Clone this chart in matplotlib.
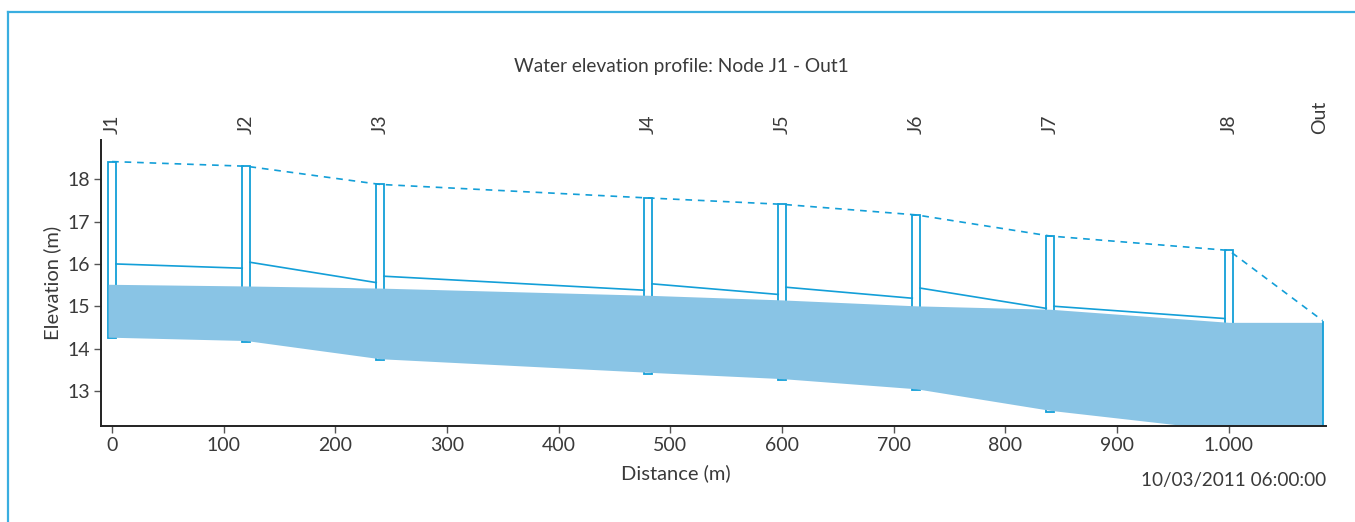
import numpy as np
import matplotlib
matplotlib.use("Agg")
import matplotlib.pyplot as plt
from matplotlib.lines import Line2D
from matplotlib.patches import Rectangle
from matplotlib.ticker import FuncFormatter

# node data (distance in m, elevations in m)
nodes = ["J1", "J2", "J3", "J4", "J5", "J6", "J7", "J8", "Out"]
distance = [0, 120, 240, 480, 600, 720, 840, 1000, 1084]
ground = [18.42, 18.31, 17.88, 17.56, 17.41, 17.16, 16.66, 16.32, 14.66]
invert = [14.24, 14.16, 13.73, 13.41, 13.26, 13.02, 12.51, 12.03, 11.95]
water = [15.52, 15.48, 15.43, 15.26, 15.15, 15.01, 14.93, 14.62, 14.62]

# pipe crowns per conduit (start, end)
crown_start = [16.00, 16.04, 15.71, 15.53, 15.45, 15.43, 15.00]
crown_end = [15.90, 15.56, 15.38, 15.28, 15.19, 14.95, 14.71]

line_col = "#139fd8"
fill_col = "#89c4e5"
text_col = "#3a3a3a"
mh_w = 7.0

plt.rcParams['font.family'] = ['Lato', 'DejaVu Sans']

fig = plt.figure(figsize=(13.55, 5.22), dpi=100)
ax = fig.add_axes([0.0749, 0.1839, 0.9037, 0.5479])

x = np.array(distance, dtype=float)
xf = x.copy()
xf[0] -= mh_w / 2
# water fill covers the lower part of the manholes
ax.fill_between(xf, np.array(invert) + 0.03, water, color=fill_col, lw=0, zorder=5)

# ground line (dashed)
ax.plot(x, ground, color=line_col, lw=1.2, ls=(0, (4, 3.5)), zorder=3)

# manholes
for i in range(len(nodes) - 1):
    ax.add_patch(Rectangle((x[i] - mh_w / 2, invert[i]), mh_w, ground[i] - invert[i],
                           fill=False, ec=line_col, lw=1.3, zorder=4))
# outfall edge
ax.plot([x[-1], x[-1]], [invert[-1], water[-1]], color=line_col, lw=1.3, zorder=6)

# conduit crowns
for i in range(len(crown_start)):
    ax.plot([x[i] + mh_w / 2, x[i + 1] - mh_w / 2], [crown_start[i], crown_end[i]],
            color=line_col, lw=1.2, zorder=3)

ax.set_xlim(-9.5, 1087)
ax.set_ylim(12.17, 18.93)
ax.set_xticks(range(0, 1001, 100))
ax.set_yticks(range(13, 19))
ax.xaxis.set_major_formatter(FuncFormatter(lambda v, p: f"{int(v):,}".replace(",", ".")))

for s in ["top", "right"]:
    ax.spines[s].set_visible(False)
for s in ["left", "bottom"]:
    ax.spines[s].set_linewidth(1.4)
    ax.spines[s].set_color("#222222")
    ax.spines[s].set_zorder(7)
ax.tick_params(axis="both", length=5, width=1, color="#555555", labelsize=14,
               labelcolor=text_col, pad=3)

ax.set_xlabel("Distance (m)", fontsize=14.5, color=text_col)
ax.xaxis.set_label_coords(0.469, -0.135)
ax.set_ylabel("Elevation (m)", fontsize=14.5, color=text_col, labelpad=5)

# node labels on top
for n, d in zip(nodes, distance):
    xt = d - 3 if n == "Out" else d
    ax.text(xt, 1.02, n, transform=ax.get_xaxis_transform(), rotation=90,
            ha="center", va="bottom", fontsize=14, color=text_col)

fig.text(0.5026, 0.873, "Water elevation profile: Node J1 - Out1", ha="center",
         va="center", fontsize=13.8, color=text_col)
fig.text(0.9786, 0.079, "10/03/2011 06:00:00", ha="right", va="center",
         fontsize=13.6, color=text_col)

# outer frame (left and top edges)
fx = 8 / 1355
fy = 1 - 12 / 522
fig.add_artist(Line2D([fx, fx], [0, fy], transform=fig.transFigure, color="#3aaee0", lw=1.6))
fig.add_artist(Line2D([fx, 1], [fy, fy], transform=fig.transFigure, color="#3aaee0", lw=1.6))

fig.savefig("out.png", dpi=100)
